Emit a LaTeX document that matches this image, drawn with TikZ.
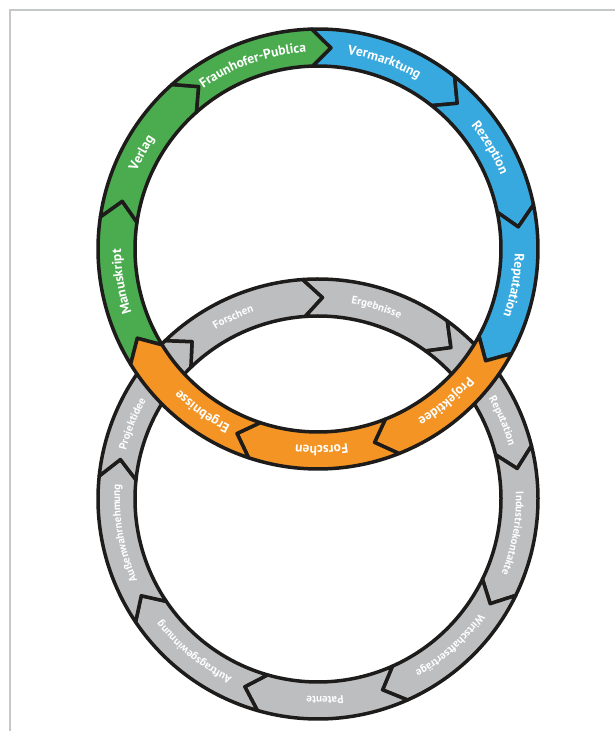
\documentclass[tikz,border=0pt]{standalone}
\usepackage{fontspec}
\setmainfont{PT Sans}
\usetikzlibrary{decorations.text}

\definecolor{ringink}{HTML}{1E1C1A}
\definecolor{ringgreen}{HTML}{4BAB4F}
\definecolor{ringblue}{HTML}{38A9DE}
\definecolor{ringorange}{HTML}{F39424}
\definecolor{ringgray}{HTML}{BCBEC0}
\definecolor{framegray}{HTML}{C4C8C8}

%% Radien des Rings und Spitze der Pfeilsegmente
\newcommand{\ringout}{220pt}
\newcommand{\ringin}{183pt}
\newcommand{\ringmid}{201.5pt}
\newcommand{\tipang}{5.3}

%% Schrift der Beschriftungen
\newcommand{\bigtag}{\fontsize{13.5}{16}\selectfont\bfseries}
\newcommand{\smalltag}{\fontsize{11}{13}\selectfont\bfseries}

%% ein Pfeilsegment: #1 Startwinkel, #2 Farbe, #3 Schrift, #4 Text,
%% #5 Winkel der Textmitte, #6 Radius der Grundlinie
\newcommand{\ringpiece}[6]{%
  \filldraw[piece, fill=#2]
    (#1:\ringout) arc[start angle=#1, end angle=#1-40, radius=\ringout]
    -- (#1-40-\tipang:\ringmid) -- (#1-40:\ringin)
    arc[start angle=#1-40, end angle=#1, radius=\ringin]
    -- (#1-\tipang:\ringmid) -- cycle;
  \path[decorate, decoration={text along path, text align=center,
        text color=white, text={|#3|#4}}]
    (#5+25:#6) arc[start angle=#5+25, end angle=#5-25, radius=#6];
}

\begin{document}
\begin{tikzpicture}[x=1pt, y=1pt,
                    piece/.style={draw=ringink, line width=3.5pt, line join=round}]

\useasboundingbox (0,0) rectangle (615,731);

%% Rahmen oben und links
\draw[framegray, line width=1.3pt] (10,0) -- (10,721) -- (615,721);

%% ==== unterer Ring (grau) ==========================================
\begin{scope}[shift={(318,232)}]
  \ringpiece{134}{ringgray}{\smalltag}{Forschen}{115}{198pt}
  \ringpiece{94}{ringgray}{\smalltag}{Ergebnisse}{73}{198pt}
  \ringpiece{54}{ringgray}{\smalltag}{Reputation}{23}{198pt}
  \ringpiece{14}{ringgray}{\smalltag}{Industriekontakte}{-10}{198pt}
  \ringpiece{-26}{ringgray}{\smalltag}{Wirtschaftserträge}{-48}{198pt}
  \ringpiece{-66}{ringgray}{\smalltag}{Patente}{-88}{198pt}
  \ringpiece{-106}{ringgray}{\smalltag}{Auftragsgewinnung}{-129}{198pt}
  \ringpiece{-146}{ringgray}{\smalltag}{Außenwahrnehmung}{-170}{198pt}
  \ringpiece{174}{ringgray}{\smalltag}{Projektidee}{158}{198pt}
\end{scope}

%% ==== oberer Ring (grün, blau, orange) =============================
\begin{scope}[shift={(318,482)}]
  \ringpiece{211.6}{ringgreen}{\bigtag}{Manuskript}{189.5}{197pt}
  \ringpiece{171.6}{ringgreen}{\bigtag}{Verlag}{151.5}{197pt}
  \ringpiece{131.6}{ringgreen}{\bigtag}{Fraunhofer-Publica}{109.5}{197pt}
  \ringpiece{91.6}{ringblue}{\bigtag}{Vermarktung}{70.5}{197pt}
  \ringpiece{51.6}{ringblue}{\bigtag}{Rezeption}{30.5}{197pt}
  \ringpiece{11.6}{ringblue}{\bigtag}{Reputation}{-10.5}{197pt}
  \ringpiece{-28.4}{ringorange}{\bigtag}{Projektidee}{-50}{197pt}
  \ringpiece{-68.4}{ringorange}{\bigtag}{Forschen}{-89}{197pt}
  \ringpiece{-108.4}{ringorange}{\bigtag}{Ergebnisse}{-125.5}{197pt}
\end{scope}

\end{tikzpicture}
\end{document}
